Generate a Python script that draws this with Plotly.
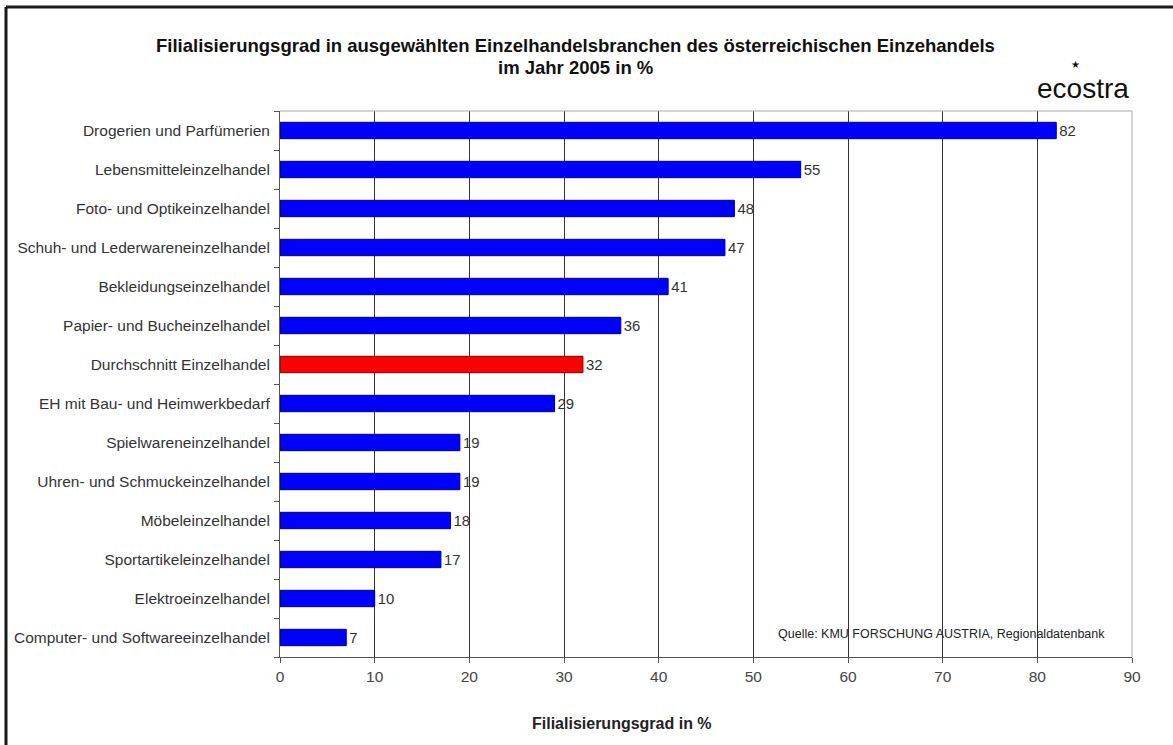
import plotly.graph_objects as go

categories = [
    "Drogerien und Parfümerien",
    "Lebensmitteleinzelhandel",
    "Foto- und Optikeinzelhandel",
    "Schuh- und Lederwareneinzelhandel",
    "Bekleidungseinzelhandel",
    "Papier- und Bucheinzelhandel",
    "Durchschnitt Einzelhandel",
    "EH mit Bau- und Heimwerkbedarf",
    "Spielwareneinzelhandel",
    "Uhren- und Schmuckeinzelhandel",
    "Möbeleinzelhandel",
    "Sportartikeleinzelhandel",
    "Elektroeinzelhandel",
    "Computer- und Softwareeinzelhandel",
]
values = [82, 55, 48, 47, 41, 36, 32, 29, 19, 19, 18, 17, 10, 7]
highlight = "Durchschnitt Einzelhandel"
x_ticks = [0, 10, 20, 30, 40, 50, 60, 70, 80, 90]

colors = ["#FF0000" if c == highlight else "#0000FF" for c in categories]
line_colors = ["#7a0000" if c == highlight else "#000080" for c in categories]

FONT = "Liberation Sans, Arial, sans-serif"

# pixel helpers (plot area: x 280..1132, y 111..657)
L, R, T, B = 280, 1132, 111, 657
def px(x): return (x - L) / (R - L)
def py(y): return (B - y) / (B - T)

fig = go.Figure()
fig.add_trace(go.Bar(
    x=values, y=categories, orientation="h",
    marker=dict(color=colors, line=dict(color=line_colors, width=1)),
    width=0.42,
    text=[str(v) for v in values], textposition="outside",
    textfont=dict(family=FONT, size=15.5, color="#333333"),
    cliponaxis=False,
    showlegend=False,
))

fig.update_layout(
    width=1173, height=745,
    margin=dict(l=L, r=1173 - R, t=T, b=745 - B),
    paper_bgcolor="white", plot_bgcolor="white",
    font=dict(family=FONT, size=15.5, color="#333333"),
    xaxis=dict(
        range=[0, 90], tickvals=x_ticks, ticktext=[str(t) for t in x_ticks],
        showgrid=True, gridcolor="#333333", gridwidth=1,
        showline=True, linecolor="#555555", linewidth=1,
        ticks="outside", ticklen=5, tickcolor="#555555",
        zeroline=False,
        tickfont=dict(family=FONT, size=15.5, color="#444444"),
    ),
    yaxis=dict(
        categoryorder="array", categoryarray=categories[::-1],
        showline=True, linecolor="#555555", linewidth=1,
        ticks="outside", tickson="boundaries", ticklen=5, tickcolor="#555555",
        showgrid=False,
        tickfont=dict(family=FONT, size=15.5, color="#333333"),
        ticklabelstandoff=6,
    ),
)

# plot area top/right border (light grey)
fig.add_shape(type="line", xref="x domain", yref="y domain", x0=0, x1=1, y0=1, y1=1,
              line=dict(color="#aaaaaa", width=1))
fig.add_shape(type="line", xref="x domain", yref="y domain", x0=1, x1=1, y0=0, y1=1,
              line=dict(color="#aaaaaa", width=1))

fig.add_annotation(text="<b>Filialisierungsgrad in ausgewählten Einzelhandelsbranchen des österreichischen Einzehandels</b>",
                   xref="paper", yref="paper", x=px(575), y=py(46),
                   yanchor="middle", xanchor="center", showarrow=False,
                   font=dict(family=FONT, size=18.5, color="#111111"))
fig.add_annotation(text="<b>im Jahr 2005 in %</b>",
                   xref="paper", yref="paper", x=px(575), y=py(67),
                   yanchor="middle", xanchor="center", showarrow=False,
                   font=dict(family=FONT, size=18.5, color="#111111"))
fig.add_annotation(text="ecostra",
                   xref="paper", yref="paper", x=px(1131), y=py(89),
                   yanchor="middle", xanchor="right", showarrow=False,
                   font=dict(family=FONT, size=28, color="#111111"))
fig.add_annotation(text="★",
                   xref="paper", yref="paper", x=px(1075), y=py(71),
                   yanchor="bottom", xanchor="center", showarrow=False,
                   borderpad=0,
                   font=dict(family="DejaVu Sans", size=10, color="#111111"))
fig.add_annotation(text="Quelle: KMU FORSCHUNG AUSTRIA, Regionaldatenbank",
                   xref="paper", yref="paper", x=px(1107), y=py(634),
                   yanchor="middle", xanchor="right", showarrow=False,
                   font=dict(family=FONT, size=12.5, color="#222222"))
fig.add_annotation(text="<b>Filialisierungsgrad in %</b>",
                   xref="paper", yref="paper", x=px(622), y=py(723),
                   yanchor="middle", xanchor="center", showarrow=False,
                   font=dict(family=FONT, size=16, color="#222222"))

# outer frame: left and top edges
fig.add_shape(type="line", xref="paper", yref="paper",
              x0=px(6), x1=px(1180), y0=py(7), y1=py(7),
              line=dict(color="#1a1a1a", width=3))
fig.add_shape(type="line", xref="paper", yref="paper",
              x0=px(6), x1=px(6), y0=py(7), y1=py(750),
              line=dict(color="#1a1a1a", width=3))

fig.write_html("out.html")
